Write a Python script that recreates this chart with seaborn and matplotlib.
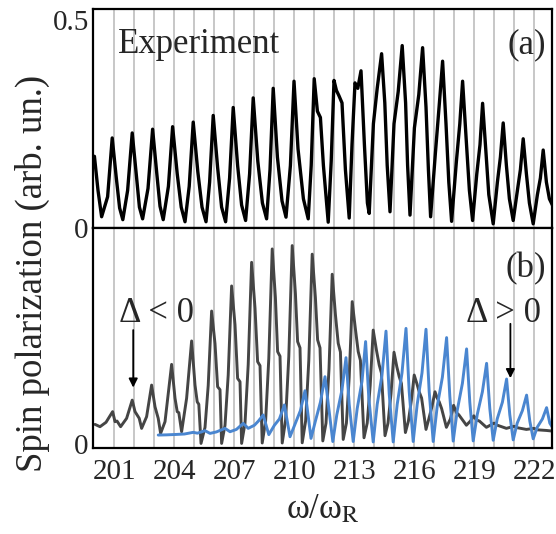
import matplotlib
matplotlib.use("Agg")
import matplotlib.pyplot as plt
import seaborn as sns

# ---- data -------------------------------------------------------------
# resonance harmonics (grey guide lines) and labelled ticks
harmonics = list(range(201, 223))
xtick_labels = [201, 204, 207, 210, 213, 216, 219, 222]

# (a) measured spin polarization, vertices of the trace
exp_x = [200.00, 200.18, 200.36, 200.66, 200.89, 201.09, 201.26, 201.42,
         201.66, 201.89, 202.10, 202.25, 202.41, 202.68, 202.91, 203.12,
         203.28, 203.44, 203.70, 203.91, 204.14, 204.34, 204.53, 204.74,
         204.94, 205.17, 205.38, 205.58, 205.76, 205.94, 206.16, 206.36,
         206.56, 206.76, 206.94, 207.16, 207.36, 207.56, 207.76, 207.94,
         208.17, 208.40, 208.61, 208.78, 208.94, 209.15, 209.38, 209.58,
         209.80, 209.98, 210.18, 210.45, 210.69, 210.84, 210.99, 211.15,
         211.30, 211.45, 211.69, 211.84, 211.98, 212.10, 212.22, 212.38,
         212.55, 212.74, 212.88, 213.03, 213.17, 213.33, 213.50, 213.65,
         213.74, 213.95, 214.14, 214.36, 214.52, 214.64, 214.78, 214.98,
         215.19, 215.39, 215.56, 215.66, 215.78, 216.00, 216.22, 216.41,
         216.58, 216.70, 216.81, 217.05, 217.25, 217.41, 217.58, 217.72,
         217.86, 218.10, 218.27, 218.41, 218.58, 218.75, 218.91, 219.12,
         219.28, 219.41, 219.58, 219.72, 219.94, 220.15, 220.30, 220.44,
         220.60, 220.75, 220.94, 221.15, 221.30, 221.44, 221.60, 221.75,
         221.94, 222.15, 222.30, 222.44, 222.60, 222.75, 222.95]
exp_y = [0.172, 0.090, 0.027, 0.075, 0.216, 0.122, 0.048, 0.020,
         0.090, 0.228, 0.125, 0.050, 0.022, 0.095, 0.237, 0.130,
         0.052, 0.020, 0.100, 0.243, 0.130, 0.050, 0.015, 0.100,
         0.254, 0.135, 0.050, 0.015, 0.110, 0.270, 0.145, 0.050,
         0.015, 0.120, 0.289, 0.150, 0.055, 0.018, 0.130, 0.312,
         0.160, 0.060, 0.022, 0.140, 0.335, 0.170, 0.065, 0.026,
         0.150, 0.352, 0.190, 0.070, 0.022, 0.150, 0.358, 0.280,
         0.265, 0.150, 0.014, 0.160, 0.354, 0.330, 0.318, 0.300,
         0.140, 0.024, 0.200, 0.348, 0.335, 0.377, 0.200, 0.060,
         0.035, 0.250, 0.335, 0.418, 0.300, 0.150, 0.039, 0.250,
         0.327, 0.4375, 0.300, 0.150, 0.031, 0.240, 0.320, 0.4325,
         0.290, 0.140, 0.027, 0.180, 0.300, 0.400, 0.250, 0.110,
         0.016, 0.160, 0.250, 0.352, 0.220, 0.090, 0.018, 0.130,
         0.200, 0.299, 0.180, 0.080, 0.010, 0.110, 0.170, 0.252,
         0.150, 0.070, 0.018, 0.090, 0.140, 0.214, 0.130, 0.060,
         0.010, 0.080, 0.120, 0.187, 0.110, 0.070, 0.050]

# (b) calculated polarization, detuning below resonance
neg_x = [200.03, 200.28, 200.58, 200.91, 201.03, 201.13, 201.31, 201.61,
         201.89, 202.03, 202.24, 202.36, 202.61, 202.86, 203.03, 203.19,
         203.31, 203.53, 203.86, 204.03, 204.14, 204.22, 204.36, 204.61,
         204.86, 205.03, 205.14, 205.22, 205.33, 205.53, 205.69,
         205.86, 206.03, 206.16, 206.28, 206.36, 206.53, 206.69,
         206.86, 207.03, 207.16, 207.28, 207.36, 207.53, 207.69,
         207.86, 208.03, 208.16, 208.28, 208.39, 208.56, 208.72,
         208.89, 209.05, 209.16, 209.28, 209.39, 209.56, 209.72,
         209.89, 210.05, 210.16, 210.28, 210.39, 210.56, 210.72,
         210.89, 211.05, 211.16, 211.28, 211.42, 211.58, 211.73,
         211.89, 212.05, 212.19, 212.30, 212.44, 212.60, 212.74,
         212.89, 213.05, 213.19, 213.30, 213.48, 213.64, 213.79,
         213.94, 214.10, 214.24, 214.35, 214.53, 214.68, 214.83,
         214.98, 215.12, 215.24, 215.35, 215.55, 215.70, 215.85,
         215.99, 216.12, 216.24, 216.36, 216.58, 216.72, 216.88,
         217.03, 217.14, 217.24, 217.36, 217.60, 217.80,
         217.96, 218.10, 218.22, 218.60, 218.80, 218.97, 219.10, 219.25,
         219.60, 219.98, 220.15, 220.60, 220.98, 221.15, 221.60, 221.98,
         222.15, 222.60, 222.90]
neg_y = [0.094, 0.083, 0.104, 0.155, 0.107, 0.110, 0.083, 0.123,
         0.210, 0.155, 0.123, 0.075, 0.131, 0.282, 0.178, 0.123,
         0.051, 0.107, 0.381, 0.219, 0.155, 0.150, 0.059, 0.219,
         0.493, 0.282, 0.202, 0.190, 0.003, 0.080, 0.280,
         0.636, 0.480, 0.274, 0.260, 0.003, 0.090, 0.330,
         0.756, 0.570, 0.314, 0.298, 0.003, 0.100, 0.380,
         0.869, 0.650, 0.394, 0.375, 0.005, 0.110, 0.410,
         0.933, 0.700, 0.442, 0.420, 0.005, 0.115, 0.420,
         0.949, 0.720, 0.490, 0.460, 0.006, 0.110, 0.400,
         0.908, 0.700, 0.498, 0.460, 0.015, 0.100, 0.360,
         0.812, 0.620, 0.482, 0.440, 0.022, 0.100, 0.320,
         0.681, 0.550, 0.442, 0.400, 0.030, 0.100, 0.280,
         0.545, 0.450, 0.378, 0.340, 0.040, 0.100, 0.240,
         0.439, 0.370, 0.322, 0.290, 0.055, 0.110, 0.210,
         0.330, 0.290, 0.250, 0.220, 0.070, 0.120, 0.180,
         0.250, 0.220, 0.202, 0.170, 0.080, 0.120,
         0.185, 0.150, 0.140, 0.090, 0.110, 0.135, 0.115, 0.110,
         0.080, 0.100, 0.090, 0.075, 0.085, 0.078, 0.070, 0.075,
         0.068, 0.065, 0.062]

# (b) calculated polarization, detuning above resonance
pos_x = [203.19, 203.60, 204.11, 204.50, 204.94, 205.15, 205.53, 205.78,
         206.10, 206.53, 206.78, 207.10, 207.44, 207.69, 208.00, 208.20,
         208.44, 208.72, 209.00, 209.25, 209.50, 209.78, 210.05, 210.30,
         210.53, 210.83, 211.05, 211.30, 211.53, 211.92,
         212.12, 212.38, 212.58, 212.74, 212.94,
         213.14, 213.38, 213.56, 213.72, 213.94,
         214.14, 214.38, 214.58, 214.74, 214.94,
         215.14, 215.38, 215.58, 215.74, 215.94,
         216.14, 216.38, 216.58, 216.74, 216.94,
         217.14, 217.40, 217.61, 217.77, 217.94,
         218.14, 218.40, 218.61, 218.77, 218.94,
         219.14, 219.40, 219.61, 219.77, 219.94,
         220.14, 220.40, 220.61, 220.77, 220.94,
         221.14, 221.40, 221.61, 221.77, 221.94,
         222.14, 222.40, 222.61, 222.77, 222.90]
pos_y = [0.043, 0.044, 0.046, 0.048, 0.056, 0.052, 0.064, 0.051,
         0.058, 0.075, 0.059, 0.070, 0.099, 0.075, 0.090, 0.110,
         0.139, 0.045, 0.090, 0.120, 0.187, 0.035, 0.100, 0.160,
         0.255, 0.027, 0.110, 0.200, 0.322, 0.012,
         0.140, 0.260, 0.413, 0.190, 0.012,
         0.170, 0.300, 0.490, 0.220, 0.010,
         0.190, 0.330, 0.540, 0.240, 0.010,
         0.190, 0.340, 0.553, 0.250, 0.012,
         0.190, 0.340, 0.549, 0.250, 0.012,
         0.180, 0.320, 0.509, 0.230, 0.014,
         0.160, 0.290, 0.455, 0.200, 0.015,
         0.140, 0.250, 0.386, 0.170, 0.018,
         0.120, 0.200, 0.311, 0.140, 0.020,
         0.100, 0.160, 0.234, 0.110, 0.025,
         0.080, 0.120, 0.174, 0.100, 0.080]

# ---- styling -----------------------------------------------------------
sns.set_theme(style="white")
plt.rcParams["font.family"] = ["Liberation Serif", "DejaVu Serif"]
plt.rcParams["mathtext.fontset"] = "stix"

FS_TEXT = 25
FS_TICK = 21
FS_YLABEL = 26.5

fig = plt.figure(figsize=(5.56, 5.34), dpi=100)
ax1 = fig.add_axes([0.1673, 0.573, 0.8255, 0.410])
ax2 = fig.add_axes([0.1673, 0.161, 0.8255, 0.412])

for ax in (ax1, ax2):
    for h in harmonics:
        ax.axvline(h, color="#b8b8b8", lw=1.1, zorder=0)

sns.lineplot(x=exp_x, y=exp_y, ax=ax1, color="black", lw=2.4,
             estimator=None, sort=False)
sns.lineplot(x=neg_x, y=neg_y, ax=ax2, color="#454545", lw=2.1,
             estimator=None, sort=False)
sns.lineplot(x=pos_x, y=pos_y, ax=ax2, color="#4a86d0", lw=2.1,
             estimator=None, sort=False)
for ax in (ax1, ax2):
    for ln in ax.get_lines():
        ln.set_solid_joinstyle("round")

xlim = (199.93, 222.88)
ax1.set_xlim(*xlim)
ax2.set_xlim(*xlim)
ax1.set_ylim(0, 0.525)
ax2.set_ylim(-0.019, 1.033)

ax1.set_yticks([0, 0.25, 0.5])
ax1.set_yticklabels(["0", "", "0.5"])
ax2.set_yticks([0, 1.0])
ax2.set_yticklabels(["0", ""])

for ax in (ax1, ax2):
    ax.set_xticks(harmonics)
    ax.tick_params(axis="x", direction="in", length=6, width=1.4,
                   labelsize=FS_TICK, pad=8, color="black")
    ax.tick_params(axis="y", direction="in", length=7.5, width=1.4,
                   labelsize=FS_TICK, pad=3, color="black")
    for sp in ax.spines.values():
        sp.set_visible(True)
        sp.set_color("black")
        sp.set_linewidth(1.6)
    ax.grid(False)

ax1.tick_params(axis="x", labelbottom=False)
ax2.set_xticklabels([str(h) if h in xtick_labels else "" for h in harmonics])

# panel labels and annotations
ax1.text(0.054, 0.80, "Experiment", transform=ax1.transAxes,
         fontsize=FS_TEXT, ha="left", va="baseline")
ax1.text(0.988, 0.80, "(a)", transform=ax1.transAxes,
         fontsize=FS_TEXT, ha="right", va="baseline")
ax2.text(0.988, 0.775, "(b)", transform=ax2.transAxes,
         fontsize=FS_TEXT, ha="right", va="baseline")

ax2.text(203.1, 0.584, "Δ < 0", fontsize=FS_TEXT, ha="center", va="baseline")
ax2.annotate("", xy=(201.94, 0.27), xytext=(201.94, 0.545),
             arrowprops=dict(arrowstyle="-|>", color="black", lw=1.3,
                             mutation_scale=13, shrinkA=0, shrinkB=0))
ax2.text(220.45, 0.584, "Δ > 0", fontsize=FS_TEXT, ha="center", va="baseline")
ax2.annotate("", xy=(220.8, 0.315), xytext=(220.8, 0.575),
             arrowprops=dict(arrowstyle="-|>", color="black", lw=1.3,
                             mutation_scale=13, shrinkA=0, shrinkB=0))

ax1.set_ylabel("")
ax2.set_ylabel("")
ax1.set_xlabel("")
ax2.set_xlabel(r"ω/ω$_\mathrm{R}$", fontsize=FS_TEXT, labelpad=6)
fig.text(0.058, 0.488, "Spin polarization (arb. un.)", rotation=90,
         fontsize=FS_YLABEL, ha="center", va="center")

fig.savefig("out.png", dpi=100)
